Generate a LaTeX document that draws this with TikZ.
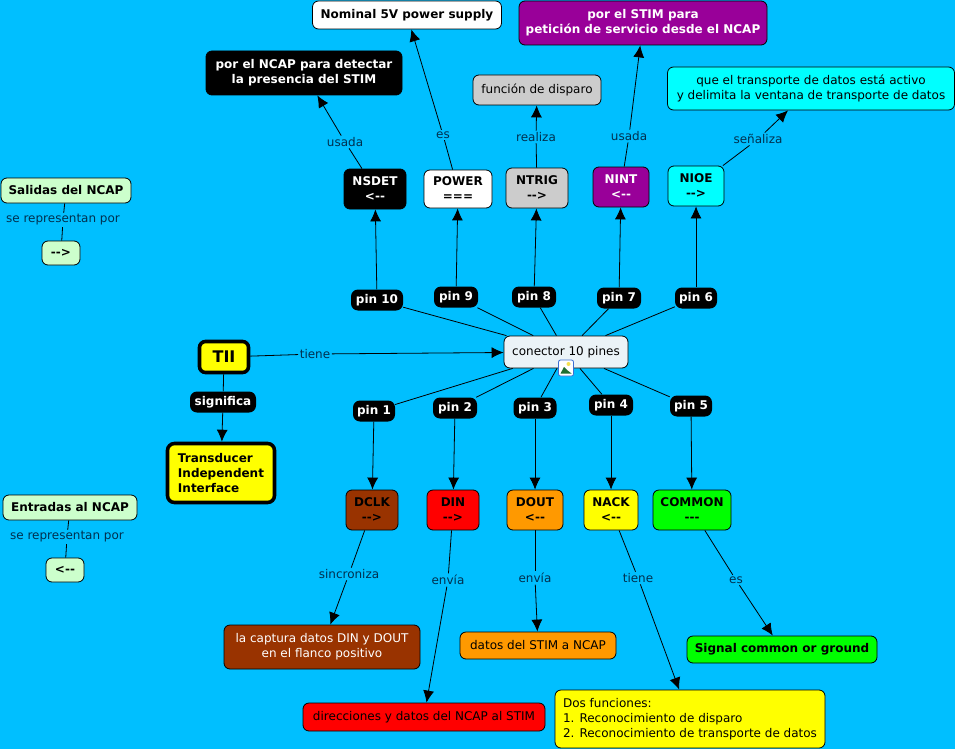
\documentclass[tikz,border=0pt]{standalone}
\usepackage{fontspec}
\setmainfont{DejaVu Sans}
\usepackage{xcolor}
\usetikzlibrary{arrows.meta}
\definecolor{mapblue}{HTML}{00BFFF}
\definecolor{linktext}{HTML}{00304F}
\definecolor{palegreen}{HTML}{CCFFCC}
\definecolor{palegrey}{HTML}{EBF3F7}
\definecolor{mapgrey}{HTML}{CCCCCC}
\definecolor{mappurple}{HTML}{990099}
\definecolor{mapcyan}{HTML}{00FFFF}
\definecolor{mapbrown}{HTML}{993300}
\definecolor{mapred}{HTML}{FF0000}
\definecolor{maporange}{HTML}{FF9900}
\definecolor{mapyellow}{HTML}{FFFF00}
\definecolor{mapgreen}{HTML}{00FF00}
\definecolor{iconblue}{HTML}{3C6ED2}
\definecolor{iconhill}{HTML}{1E6E32}
\definecolor{iconsun}{HTML}{F5E050}
\tikzset{
	concept/.style={
			draw=black, line width=0.8pt, rounded corners=6, inner sep=0pt, align=center,
			font=\fontsize{12}{15}\selectfont\bfseries
		},
	thinconcept/.style={
			concept, font=\fontsize{12}{15}\selectfont
		},
	linklabel/.style={
			fill=mapblue, text=linktext, inner sep=1.5pt,
			font=\fontsize{12}{14}\selectfont
		},
	pinlabel/.style={
			fill=black, text=white, rounded corners=7, inner sep=0pt, minimum height=21,
			font=\fontsize{12}{14}\selectfont\bfseries
		},
	heavy/.style={line width=3.6pt},
	link/.style={line width=0.8pt, black},
	arrowlink/.style={link, -{Latex[length=12pt,width=11pt]}}
}

\begin{document}
\begin{tikzpicture}[x=1pt, y=-1pt]
	\fill [mapblue] (0, 0) rectangle (955, 749);
	\useasboundingbox (0, 0) rectangle (955, 749);

	% centre of the map
	\node [thinconcept, fill=palegrey, minimum width=124, minimum height=32] (conector) at (566, 352) {conector 10 pines};
	\node [concept, heavy, fill=mapyellow, minimum width=49, minimum height=31, font=\fontsize{16}{18}\selectfont\bfseries] (tii) at (224, 357) {TII};
	\node [concept, heavy, fill=mapyellow, minimum width=107, minimum height=59, align=left, rounded corners=7] (transducer) at (221, 473) {Transducer\\Independent\\Interface};
	\node [pinlabel, minimum width=66] (significa) at (223, 402) {significa};
	\node [linklabel] (tiene) at (315, 354) {tiene};

	% upper row
	\node [pinlabel, minimum width=52] (pin10) at (377, 300) {pin 10};
	\node [pinlabel, minimum width=44] (pin9) at (456, 297) {pin 9};
	\node [pinlabel, minimum width=44] (pin8) at (534, 297) {pin 8};
	\node [pinlabel, minimum width=44] (pin7) at (619, 298) {pin 7};
	\node [pinlabel, minimum width=42] (pin6) at (696, 298) {pin 6};
	\node [concept, fill=black, text=white, minimum width=62, minimum height=40] (nsdet) at (375, 189) {NSDET\\<{-}{-}};
	\node [concept, fill=white, minimum width=68, minimum height=38] (power) at (458, 189) {POWER\\===};
	\node [concept, fill=mapgrey, minimum width=62, minimum height=40] (ntrig) at (537, 188) {NTRIG\\-{}->};
	\node [concept, fill=mappurple, text=white, minimum width=56, minimum height=40] (nint) at (621, 187) {NINT\\<{-}{-}};
	\node [concept, fill=mapcyan, minimum width=56, minimum height=40] (nioe) at (696, 186) {NIOE\\-{}->};
	\node [linklabel] (usadaa) at (345, 142) {usada};
	\node [linklabel] (esa) at (443, 135) {es};
	\node [linklabel] (realiza) at (536, 137) {realiza};
	\node [linklabel] (usadab) at (629, 136) {usada};
	\node [linklabel] (senaliza) at (758, 139) {señaliza};
	\node [concept, fill=black, text=white, minimum width=196, minimum height=44] (detectar) at (304, 73) {por el NCAP para detectar\\la presencia del STIM};
	\node [concept, fill=white, minimum width=189, minimum height=28] (nominal) at (407, 15) {Nominal 5V power supply};
	\node [thinconcept, fill=mapgrey, minimum width=128, minimum height=30] (disparo) at (537, 90) {función de disparo};
	\node [concept, fill=mappurple, text=white, minimum width=248, minimum height=44] (peticion) at (643, 23) {por el STIM para\\petición de servicio desde el NCAP};
	\node [thinconcept, fill=mapcyan, minimum width=287, minimum height=43] (transporte) at (811, 88.5) {que el transporte de datos está activo\\y delimita la ventana de transporte de datos};

	% lower row
	\node [pinlabel, minimum width=42] (pin1) at (374, 411) {pin 1};
	\node [pinlabel, minimum width=44] (pin2) at (455, 408) {pin 2};
	\node [pinlabel, minimum width=43] (pin3) at (535, 408) {pin 3};
	\node [pinlabel, minimum width=44] (pin4) at (611, 405) {pin 4};
	\node [pinlabel, minimum width=42] (pin5) at (691, 406) {pin 5};
	\node [concept, fill=mapbrown, minimum width=52, minimum height=40] (dclk) at (372, 510) {DCLK\\-{}->};
	\node [concept, fill=mapred, minimum width=52, minimum height=40] (din) at (453, 510) {DIN\\-{}->};
	\node [concept, fill=maporange, minimum width=56, minimum height=40] (dout) at (535, 510) {DOUT\\<{-}{-}};
	\node [concept, fill=mapyellow, minimum width=54, minimum height=40] (nack) at (611, 510) {NACK\\<{-}{-}};
	\node [concept, fill=mapgreen, minimum width=78, minimum height=40] (common) at (692, 510) {COMMON\\-{}-{}-};
	\node [linklabel] (sincroniza) at (349, 574) {sincroniza};
	\node [linklabel] (enviaa) at (448, 580) {envía};
	\node [linklabel] (enviab) at (535, 578) {envía};
	\node [linklabel] (tieneb) at (638, 578) {tiene};
	\node [linklabel] (esb) at (736, 580) {es};
	\node [thinconcept, fill=mapbrown, text=white, minimum width=196, minimum height=44] (captura) at (322, 647) {la captura datos DIN y DOUT\\en el flanco positivo};
	\node [thinconcept, fill=mapred, minimum width=242, minimum height=28] (direcciones) at (424, 717) {direcciones y datos del NCAP al STIM};
	\node [thinconcept, fill=maporange, minimum width=156, minimum height=27] (datos) at (538, 645.5) {datos del STIM a NCAP};
	\node [thinconcept, fill=mapyellow, minimum width=270, minimum height=58, align=left] (funciones) at (690, 719) {Dos funciones:\\1. Reconocimiento de disparo\\2. Reconocimiento de transporte de datos};
	\node [concept, fill=mapgreen, minimum width=190, minimum height=27] (signal) at (782, 649.5) {Signal common or ground};

	% legend
	\node [concept, fill=palegreen, minimum width=130, minimum height=25] (salidas) at (66, 190.5) {Salidas del NCAP};
	\node [linklabel] (repa) at (63, 220) {se representan por};
	\node [concept, fill=palegreen, minimum width=38, minimum height=24] (salida) at (61, 253) {-{}->};
	\node [concept, fill=palegreen, minimum width=134, minimum height=25] (entradas) at (70, 507.5) {Entradas al NCAP};
	\node [linklabel] (repb) at (67, 537) {se representan por};
	\node [concept, fill=palegreen, minimum width=38, minimum height=24] (entrada) at (65, 570) {<{-}{-}};

	% connectors
	\draw [link] (tii) -- (tiene);
	\draw [arrowlink] (tiene) -- (conector);
	\draw [link] (tii) -- (significa);
	\draw [arrowlink] (significa) -- (transducer);
	\draw [link] (pin10) -- (conector);
	\draw [link] (pin9) -- (conector);
	\draw [link] (pin8) -- (conector);
	\draw [link] (pin7) -- (conector);
	\draw [link] (pin6) -- (conector);
	\draw [link] (pin1) -- (conector);
	\draw [link] (pin2) -- (conector);
	\draw [link] (pin3) -- (conector);
	\draw [link] (pin4) -- (conector);
	\draw [link] (pin5) -- (conector);
	\draw [arrowlink] (pin10) -- (nsdet);
	\draw [arrowlink] (pin9) -- (power);
	\draw [arrowlink] (pin8) -- (ntrig);
	\draw [arrowlink] (pin7) -- (nint);
	\draw [arrowlink] (pin6) -- (nioe);
	\draw [arrowlink] (pin1) -- (dclk);
	\draw [arrowlink] (pin2) -- (din);
	\draw [arrowlink] (pin3) -- (dout);
	\draw [arrowlink] (pin4) -- (nack);
	\draw [arrowlink] (pin5) -- (common);
	\draw [link] (nsdet) -- (usadaa);
	\draw [arrowlink] (usadaa) -- (detectar);
	\draw [link] (power) -- (esa);
	\draw [arrowlink] (esa) -- (nominal);
	\draw [link] (ntrig) -- (realiza);
	\draw [arrowlink] (realiza) -- (disparo);
	\draw [link] (nint) -- (usadab);
	\draw [arrowlink] (usadab) -- (peticion);
	\draw [link] (nioe) -- (senaliza);
	\draw [arrowlink] (senaliza) -- (transporte);
	\draw [link] (dclk) -- (sincroniza);
	\draw [arrowlink] (sincroniza) -- (captura);
	\draw [link] (din) -- (enviaa);
	\draw [arrowlink] (enviaa) -- (direcciones);
	\draw [link] (dout) -- (enviab);
	\draw [arrowlink] (enviab) -- (datos);
	\draw [link] (nack) -- (tieneb);
	\draw [arrowlink] (tieneb) -- (funciones);
	\draw [link] (common) -- (esb);
	\draw [arrowlink] (esb) -- (signal);
	\draw [link] (salidas) -- (repa);
	\draw [link] (repa) -- (salida);
	\draw [link] (entradas) -- (repb);
	\draw [link] (repb) -- (entrada);

	% image icon on the map centre
	\node [draw=iconblue, fill=white, line width=0.8pt, rounded corners=2, minimum width=15, minimum height=16, inner sep=0pt] (icon) at (566, 368) {};
	\fill [iconhill] (560.5, 373.5) -- (564, 367) -- (567, 370) -- (571.5, 373.5) -- cycle;
	\fill [iconsun] (568.5, 364) circle (2);
\end{tikzpicture}
\end{document}
